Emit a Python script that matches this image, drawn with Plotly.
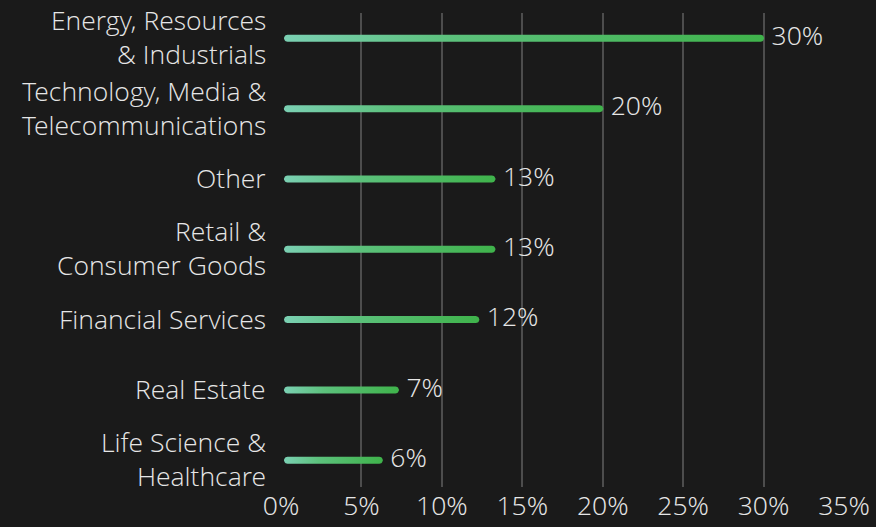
import numpy as np
import plotly.graph_objects as go

# ---- data ----
categories = [
    "Energy, Resources<br>& Industrials",
    "Technology, Media &<br>Telecommunications",
    "Other",
    "Retail &<br>Consumer Goods",
    "Financial Services",
    "Real Estate",
    "Life Science &<br>Healthcare",
]
values = [30, 20, 13.3, 13.3, 12.3, 7.3, 6.3]
x_tick_values = [0, 5, 10, 15, 20, 25, 30, 35]
x_tick_labels = ["0%", "5%", "10%", "15%", "20%", "25%", "30%", "35%"]

# ---- layout constants ----
W, H = 876, 527
M = dict(l=281, r=32, t=13, b=40)
xr = [0, 35]
yr = [-0.38, 6.36]
px_x = (W - M["l"] - M["r"]) / (xr[1] - xr[0])
px_y = (H - M["t"] - M["b"]) / (yr[1] - yr[0])

FONT = "Open Sans Light, Open Sans"
FS = 26.5
TXT = "#e6e6e6"
BG = "#1a1a1a"

n = len(categories)
ypos = list(range(n - 1, -1, -1))

fig = go.Figure()

# rounded gradient bars (polygon from the value through axis scale)
r_px = 3.5
rx, ry = r_px / px_x, r_px / px_y
left_off = 3 / px_x
for v, y in zip(values, ypos):
    lc = left_off + rx
    rc = v - rx + 0.5 / px_x
    t1 = np.linspace(-np.pi / 2, np.pi / 2, 12)
    t2 = np.linspace(np.pi / 2, 3 * np.pi / 2, 12)
    xs = list(rc + rx * np.cos(t1)) + list(lc + rx * np.cos(t2))
    ys = list(y + ry * np.sin(t1)) + list(y + ry * np.sin(t2))
    xs.append(xs[0]); ys.append(ys[0])
    fig.add_trace(go.Scatter(
        x=xs, y=ys, mode="lines", fill="toself",
        line=dict(width=0),
        fillgradient=dict(type="horizontal",
                          colorscale=[[0, "#7bd0b3"], [0.35, "#5cc17c"], [1, "#3fb34b"]]),
        hoverinfo="skip", showlegend=False,
    ))

fig.add_trace(go.Scatter(
    x=[v + 8 / px_x for v in values], y=ypos, mode="text",
    text=[f"{round(v)}%" for v in values],
    textposition="middle right",
    textfont=dict(family=FONT, size=FS, color=TXT, weight=300),
    hoverinfo="skip", showlegend=False,
))

# category labels
annotations = []
for label, y in zip(categories, ypos):
    annotations.append(dict(
        x=0, xref="paper", y=y, yref="y", text=label, showarrow=False,
        xanchor="right", yanchor="middle", align="right", xshift=-14, yshift=1,
        borderpad=0,
        font=dict(family=FONT, size=FS, color=TXT, weight=300),
    ))

fig.update_layout(
    width=W, height=H,
    margin=M,
    paper_bgcolor=BG, plot_bgcolor=BG,
    font=dict(family=FONT, size=FS, color=TXT, weight=300),
    annotations=annotations,
    xaxis=dict(
        range=xr, tickvals=x_tick_values, ticktext=x_tick_labels,
        showgrid=True, gridcolor="#4d4d4d", gridwidth=1.5,
        zeroline=False, showline=False, ticks="", automargin=False,
        tickfont=dict(family=FONT, size=FS, color=TXT, weight=300),
        fixedrange=True,
    ),
    yaxis=dict(
        range=yr, showgrid=False, zeroline=False, showline=False,
        showticklabels=False, ticks="", fixedrange=True, automargin=False,
    ),
)

fig.write_html("out.html", config={"displayModeBar": False},
               post_script="document.body.style.margin='0';")
